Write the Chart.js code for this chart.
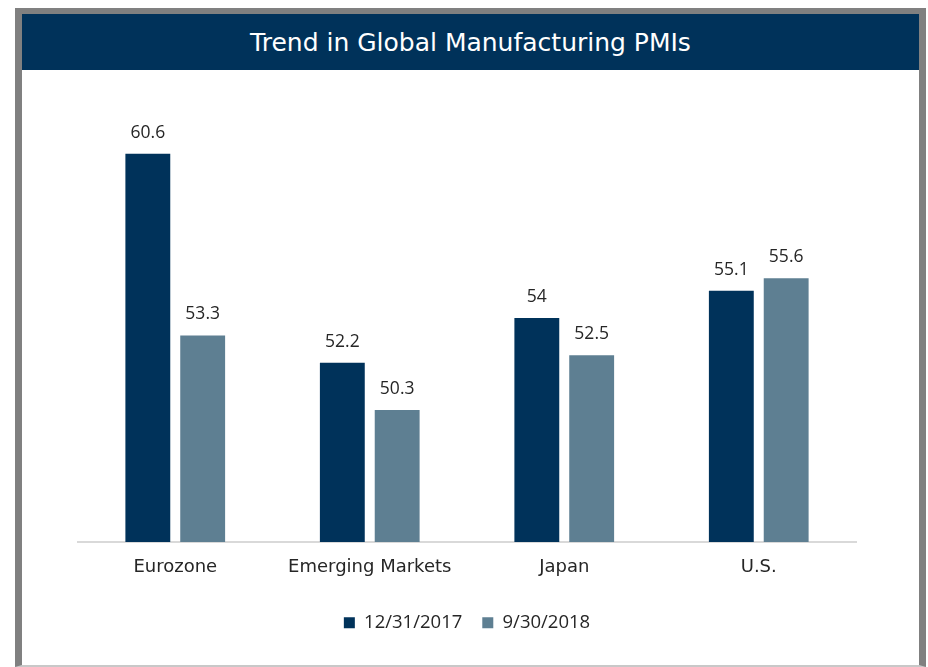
<!DOCTYPE html>
<html>
<head>
<meta charset="utf-8">
<script src="https://cdn.jsdelivr.net/npm/chart.js@4/dist/chart.umd.min.js"></script>
<style>
  html, body { margin: 0; padding: 0; background: #ffffff; }
  #frame {
    position: absolute; left: 15px; top: 8px; width: 897px;
    border-left: 7px solid #808080; border-right: 7px solid #808080; border-top: 6px solid #808080;
    border-bottom: 2px solid #c8c8c8;
  }
  #titlebar {
    height: 56px; background: #00325a; color: #ffffff;
    font-family: "DejaVu Sans", sans-serif; font-size: 25px;
    display: flex; align-items: center; justify-content: center;
  }
  #wrap { position: relative; width: 897px; height: 595px; }
</style>
</head>
<body>
<div id="frame">
  <div id="titlebar">Trend in Global Manufacturing PMIs</div>
  <div id="wrap"><canvas id="c" width="897" height="595"></canvas></div>
</div>
<script>
const categories = ["Eurozone", "Emerging Markets", "Japan", "U.S."];
const seriesNames = ["12/31/2017", "9/30/2018"];
const values2017 = [60.6, 52.2, 54, 55.1];
const values2018 = [53.3, 50.3, 52.5, 55.6];

const dataLabels = {
  id: 'dataLabels',
  afterDatasetsDraw(chart) {
    const ctx = chart.ctx;
    ctx.save();
    ctx.font = '17.5px "Open Sans", sans-serif';
    ctx.fillStyle = '#262626';
    ctx.textAlign = 'center';
    ctx.textBaseline = 'middle';
    chart.data.datasets.forEach((ds, i) => {
      const meta = chart.getDatasetMeta(i);
      meta.data.forEach((bar, j) => {
        ctx.fillText(String(ds.data[j]), bar.x, bar.y - 21);
      });
    });
    ctx.restore();
  }
};

new Chart(document.getElementById('c'), {
  type: 'bar',
  data: {
    labels: categories,
    datasets: [
      { label: seriesNames[0], data: values2017, backgroundColor: '#00325a', categoryPercentage: 0.564, barPercentage: 0.818 },
      { label: seriesNames[1], data: values2018, backgroundColor: '#5e7f92', categoryPercentage: 0.564, barPercentage: 0.818 }
    ]
  },
  options: {
    responsive: false,
    animation: false,
    layout: { padding: { left: 56, right: 63, top: 49, bottom: 23 } },
    plugins: {
      legend: {
        position: 'bottom',
        labels: {
          boxWidth: 11, boxHeight: 11, padding: 20,
          color: '#262626',
          font: { family: '"Open Sans", sans-serif', size: 18.5 }
        }
      },
      tooltip: { enabled: false },
      title: { display: false }
    },
    scales: {
      x: {
        grid: { display: false, drawTicks: false },
        border: { display: true, color: '#d9d9d9', width: 2 },
        ticks: { color: '#262626', padding: 15, font: { family: '"DejaVu Sans", sans-serif', size: 18 } }
      },
      y: { display: false, min: 45, max: 62 }
    }
  },
  plugins: [dataLabels]
});
</script>
</body>
</html>
